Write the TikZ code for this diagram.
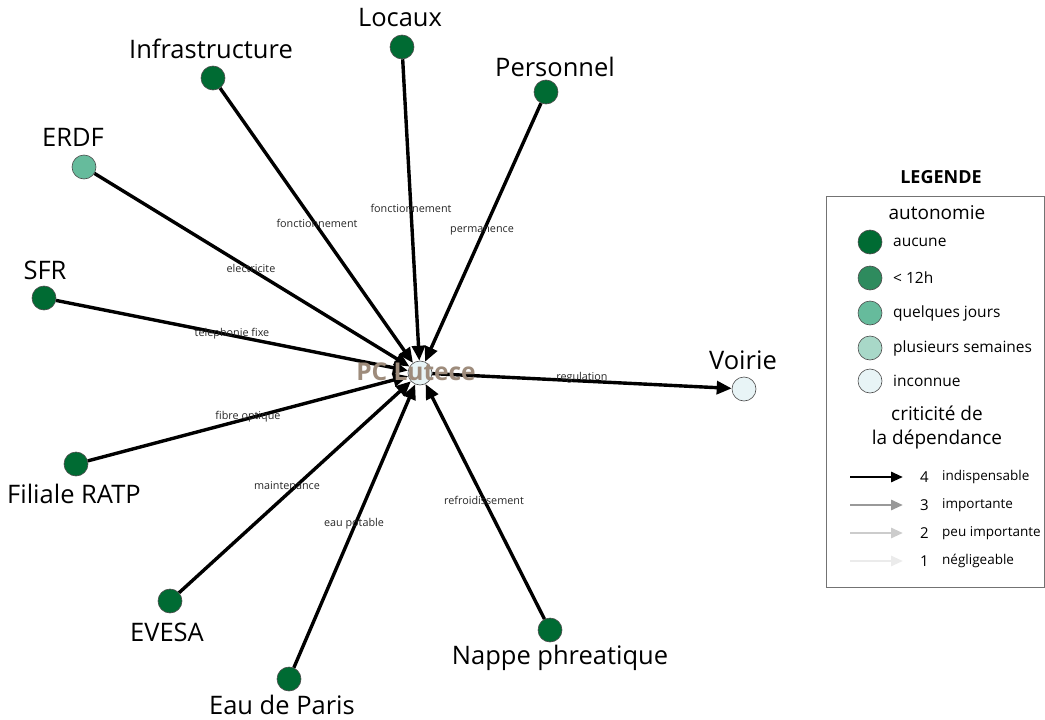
\documentclass[tikz,border=0pt]{standalone}
\usepackage{fontspec}
\setmainfont{Open Sans}
\usetikzlibrary{arrows.meta}
\definecolor{caucune}{HTML}{006B33}
\definecolor{c12h}{HTML}{2E8B5E}
\definecolor{cjours}{HTML}{66BB9C}
\definecolor{csem}{HTML}{A8D8C8}
\definecolor{cinc}{HTML}{E8F4F6}
\definecolor{cpc}{HTML}{9E8C7C}
\tikzset{
 dot/.style={circle,draw=black!70,line width=0.6pt,minimum size=24pt,inner sep=0pt},
 lbl/.style={font=\fontsize{25.5}{28}\selectfont,inner sep=0pt},
 elbl/.style={font=\fontsize{10.8}{12}\selectfont,inner sep=0pt,text=black!85},
 dep/.style={line width=3.4pt,-{Triangle[length=15pt,width=13pt]}},
 legt/.style={font=\fontsize{15.5}{18}\selectfont,inner sep=0pt,anchor=west},
 legs/.style={font=\fontsize{13.5}{16}\selectfont,inner sep=0pt,anchor=west},
 legh/.style={font=\fontsize{19}{22}\selectfont,inner sep=0pt},
}
\begin{document}
\begin{tikzpicture}[x=1pt,y=-1pt]
\useasboundingbox (0,0) rectangle (1045,720);
% nodes
\node[dot,fill=cinc] (pc) at (420,373) {};
\node[dot,fill=caucune] (locaux) at (402,47) {};
\node[dot,fill=caucune] (infra) at (213,78) {};
\node[dot,fill=caucune] (perso) at (546,92) {};
\node[dot,fill=cjours] (erdf) at (84,167) {};
\node[dot,fill=caucune] (sfr) at (44,298) {};
\node[dot,fill=caucune] (ratp) at (76,464) {};
\node[dot,fill=caucune] (evesa) at (170,601) {};
\node[dot,fill=caucune] (eau) at (289,679) {};
\node[dot,fill=caucune] (nappe) at (550,630) {};
\node[dot,fill=cinc] (voirie) at (744,389) {};
% labels
\node[lbl] (tlocaux) at (400,18) {Locaux};
\node[lbl] (tinfra) at (211,49) {Infrastructure};
\node[lbl] (tperso) at (555,67) {Personnel};
\node[lbl] (terdf) at (73,137) {ERDF};
\node[lbl] (tsfr) at (45,270) {SFR};
\node[lbl] (tratp) at (74,494) {Filiale RATP};
\node[lbl] (tevesa) at (167,632) {EVESA};
\node[lbl] (teau) at (282,705) {Eau de Paris};
\node[lbl] (tnappe) at (560,658) {Nappe phreatique};
\node[lbl] (tvoirie) at (743,360) {Voirie};
% edges
\draw[dep] (locaux) -- (pc);
\draw[dep] (infra) -- (pc);
\draw[dep] (perso) -- (pc);
\draw[dep] (erdf) -- (pc);
\draw[dep] (sfr) -- (pc);
\draw[dep] (ratp) -- (pc);
\draw[dep] (evesa) -- (pc);
\draw[dep] (eau) -- (pc);
\draw[dep] (nappe) -- (pc);
\draw[dep] (pc) -- (voirie);
% edge labels
\node[elbl] (e1) at (317,223) {fonctionnement};
\node[elbl] (e2) at (411,208) {fonctionnement};
\node[elbl] (e3) at (482,231) {permanence};
\node[elbl] (e4) at (251,268) {electricite};
\node[elbl] (e5) at (232,334) {telephonie fixe};
\node[elbl] (e6) at (248,417) {fibre optique};
\node[elbl] (e7) at (287,486) {maintenance};
\node[elbl] (e8) at (354,524) {eau potable};
\node[elbl] (e9) at (484,500) {refroidissement};
\node[elbl] (e10) at (582,378) {regulation};
\node[font=\bfseries\fontsize{24.5}{27}\selectfont,text=cpc,inner sep=0pt] (tpc) at (416,372) {PC Lutece};
% legend
\node[font=\bfseries\fontsize{18}{20}\selectfont,inner sep=0pt] (legtitle) at (941,177) {LEGENDE};
\draw[black!55,line width=1pt] (826,196) rectangle (1044,587);
\node[legh] (autot) at (937,213) {autonomie};
\node[dot,fill=caucune] (l1) at (870,242) {};
\node[dot,fill=c12h] (l2) at (870,278) {};
\node[dot,fill=cjours] (l3) at (870,313) {};
\node[dot,fill=csem] (l4) at (870,348) {};
\node[dot,fill=cinc] (l5) at (870,381) {};
\node[legt] at (893,242) {aucune};
\node[legt] at (893,278) {< 12h};
\node[legt] at (893,313) {quelques jours};
\node[legt] at (893,348) {plusieurs semaines};
\node[legt] at (893,381) {inconnue};
\node[legh] (crit1) at (937,413) {criticité de};
\node[legh] (crit2) at (937,439) {la dépendance};
\coordinate (a4s) at (850,477); \coordinate (a4e) at (903,477);
\coordinate (a3s) at (850,505); \coordinate (a3e) at (903,505);
\coordinate (a2s) at (850,533); \coordinate (a2e) at (903,533);
\coordinate (a1s) at (850,561); \coordinate (a1e) at (903,561);
\draw[line width=2.8pt,-{Triangle[length=12pt,width=10pt]},black] (a4s) -- (a4e);
\draw[line width=2.8pt,-{Triangle[length=12pt,width=10pt]},black!40] (a3s) -- (a3e);
\draw[line width=2.8pt,-{Triangle[length=12pt,width=10pt]},black!20] (a2s) -- (a2e);
\draw[line width=2.8pt,-{Triangle[length=12pt,width=10pt]},black!8] (a1s) -- (a1e);
\node[legt,font=\fontsize{15}{17}\selectfont] at (920,477) {4};
\node[legt,font=\fontsize{15}{17}\selectfont] at (920,505) {3};
\node[legt,font=\fontsize{15}{17}\selectfont] at (920,533) {2};
\node[legt,font=\fontsize{15}{17}\selectfont] at (920,561) {1};
\node[legs] at (942,477) {indispensable};
\node[legs] at (942,505) {importante};
\node[legs] at (942,533) {peu importante};
\node[legs] at (942,561) {négligeable};
\end{tikzpicture}
\end{document}
